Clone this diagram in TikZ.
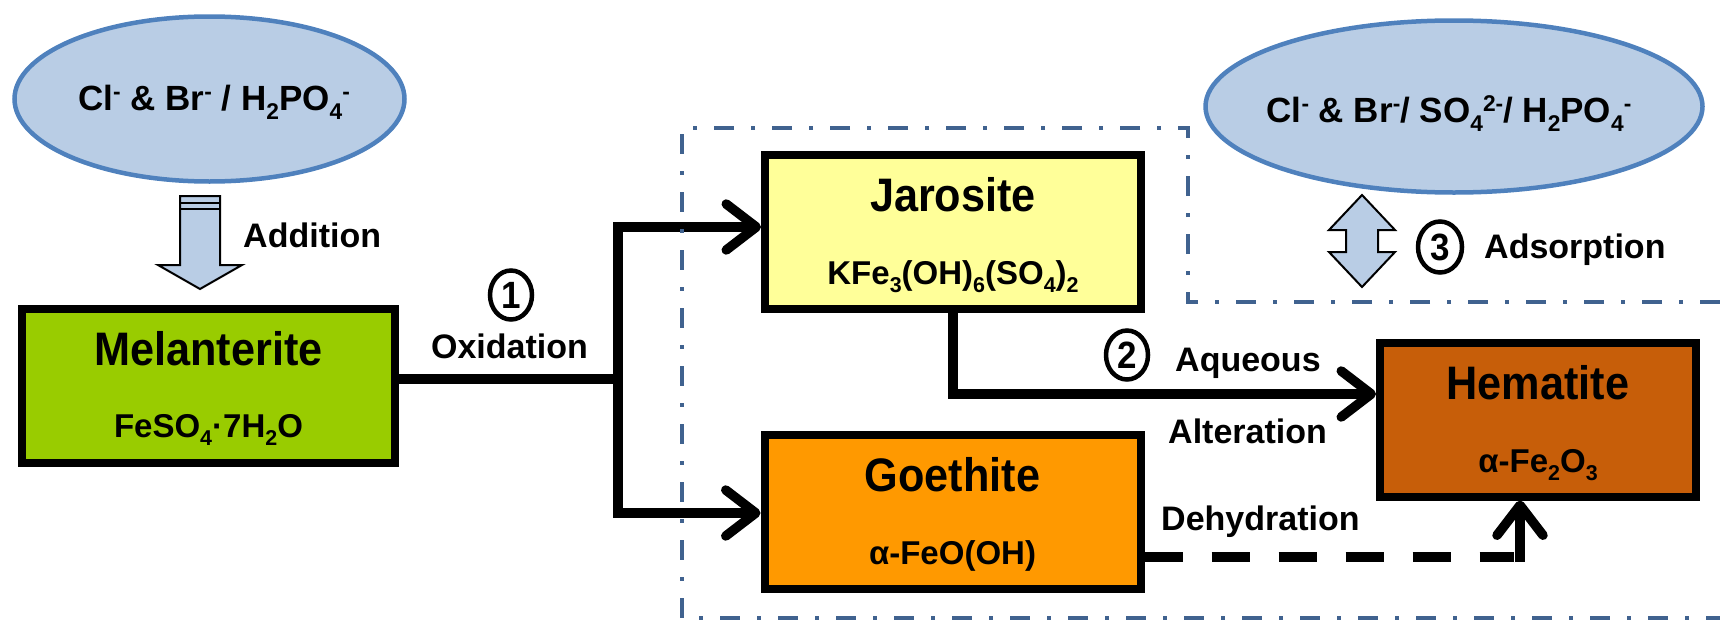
\documentclass[tikz,border=0pt]{standalone}
\usepackage{fontspec}
\setmainfont{Liberation Sans}
\newfontfamily\narrowsans{Liberation Sans}[FakeStretch=0.92]
\usetikzlibrary{shapes.geometric,arrows.meta}

\definecolor{ionfill}{RGB}{185,205,229}
\definecolor{ionedge}{RGB}{79,129,189}
\definecolor{melfill}{RGB}{153,204,0}
\definecolor{jarfill}{RGB}{255,255,153}
\definecolor{goefill}{RGB}{255,153,0}
\definecolor{hemfill}{RGB}{199,94,9}
\definecolor{zonecol}{RGB}{64,98,143}

% chemical sub- and superscripts
\newcommand\chsub[1]{\raisebox{-0.26em}{\scalebox{0.65}{#1}}}
\newcommand\chsup[1]{\raisebox{0.3em}{\scalebox{0.65}{#1}}}

\begin{document}
\begin{tikzpicture}[x=1pt,y=-1pt,
  ion/.style={ellipse, draw=ionedge, fill=ionfill, line width=4.5pt, inner sep=0pt},
  ionlbl/.style={anchor=base, inner sep=0pt, font=\fontsize{35}{40}\selectfont\bfseries},
  mineral/.style={draw=black, line width=8pt, minimum width=376pt, minimum height=154pt, inner sep=0pt},
  title/.style={anchor=base, inner sep=0pt, font=\narrowsans\fontsize{47}{52}\selectfont\bfseries},
  formula/.style={anchor=base, inner sep=0pt, font=\fontsize{33}{40}\selectfont\bfseries},
  lbl/.style={anchor=base west, inner sep=0pt, font=\fontsize{34}{40}\selectfont\bfseries},
  num/.style={ellipse, draw=black, line width=4.5pt, inner sep=0pt, minimum width=42pt, minimum height=49pt,
    font=\narrowsans\fontsize{38}{42}\selectfont\bfseries, text height=27.2pt, text depth=0pt},
  conn/.style={draw=black, line width=9.5pt, line join=miter},
  tipped/.style={-{Straight Barb[length=30pt,width=46pt,round]}},
  dashconn/.style={draw=black, line width=9.5pt, dash pattern=on 38pt off 29pt},
  blockarrow/.style={fill=ionfill, draw=black, line width=2pt, line join=miter},
  zone/.style={draw=zonecol, line width=4.8pt, dash pattern=on 20pt off 17pt on 4pt off 17pt}
]
\useasboundingbox (0,0) rectangle (1720,621);

% anion sources
\node[ion, minimum width=390pt, minimum height=165pt] (ionA) at (209.5,99) {};
\node[ionlbl] (ionAtxt) at (214,110) {Cl\chsup{-} \& Br\chsup{-} / H\chsub{2}PO\chsub{4}\chsup{-}};
\node[ion, minimum width=497pt, minimum height=172pt] (ionB) at (1454,106.5) {};
\node[ionlbl] (ionBtxt) at (1449,122) {Cl\chsup{-} \& Br\chsup{-}/ SO\chsub{4}\chsup{2-}/ H\chsub{2}PO\chsub{4}\chsup{-}};

% addition arrow
\filldraw[blockarrow] (180,196) -- (220,196) -- (220,265) -- (242,265) -- (200,289)
  -- (158,265) -- (180,265) -- cycle;
\draw[line width=1.5pt] (180,203) -- (220,203) (180,209) -- (220,209);
\node[lbl] (addl) at (243,247) {Addition};

% adsorption arrow
\filldraw[blockarrow] (1362,195) -- (1395,230) -- (1378,230) -- (1378,252) -- (1395,252)
  -- (1362,287) -- (1329,252) -- (1346,252) -- (1346,230) -- (1329,230) -- cycle;
\node[num, minimum width=44pt, minimum height=51pt] (n3) at (1440,247) {3};
\node[lbl] (adsl) at (1484,258) {Adsorption};

% minerals
\node[mineral, fill=melfill, minimum width=373pt] (mel) at (208.5,386) {};
\node[title] (melT) at (208.5,365) {Melanterite};
\node[formula] (melF) at (208.5,437) {FeSO\chsub{4}·7H\chsub{2}O};

\node[mineral, fill=jarfill] (jar) at (953,232) {};
\node[title] (jarT) at (953,211) {Jarosite};
\node[formula] (jarF) at (953,284) {KFe\chsub{3}(OH)\chsub{6}(SO\chsub{4})\chsub{2}};

\node[mineral, fill=goefill] (goe) at (952.5,511.5) {};
\node[title] (goeT) at (952.5,491) {Goethite};
\node[formula] (goeF) at (952.5,564) {α-FeO(OH)};

\node[mineral, fill=hemfill, minimum width=316pt] (hem) at (1538,419.5) {};
\node[title] (hemT) at (1538,399) {Hematite};
\node[formula] (hemF) at (1538,472) {α-Fe\chsub{2}O\chsub{3}};

% oxidation branches
\coordinate (split) at (618,379);
\coordinate (ja) at (618,227);
\coordinate (ga) at (618,513);
\draw[conn] (mel.east |- split) -- (split);
\draw[conn, tipped] (split) -- (ja) -- (ja -| jar.west);
\draw[conn, tipped] (split) -- (ga) -- (ga -| goe.west);
\node[num] (n1) at (511,295) {1};
\node[lbl, anchor=base] (oxl) at (509.5,358) {Oxidation};

% aqueous alteration
\coordinate (jb) at (953,394);
\draw[conn, tipped] (jar.south) -- (jb) -- (jb -| hem.west);
\node[num] (n2) at (1127,355) {2};
\node[lbl] (aql) at (1175,371) {Aqueous};
\node[lbl] (altl) at (1168,443) {Alteration};

% dehydration
\coordinate (dend) at (1514,557);
\coordinate (dtail) at (1520,562);
\draw[dashconn] (dend -| goe.east) -- (dend);
\draw[conn, tipped] (dtail) -- (dtail |- hem.south);
\node[lbl] (dehl) at (1161,530) {Dehydration};

% adsorption zone
\draw[zone] (1720,302) -- (1188,302) -- (1188,128) -- (682,128) -- (682,618) -- (1720,618);
\end{tikzpicture}
\end{document}
